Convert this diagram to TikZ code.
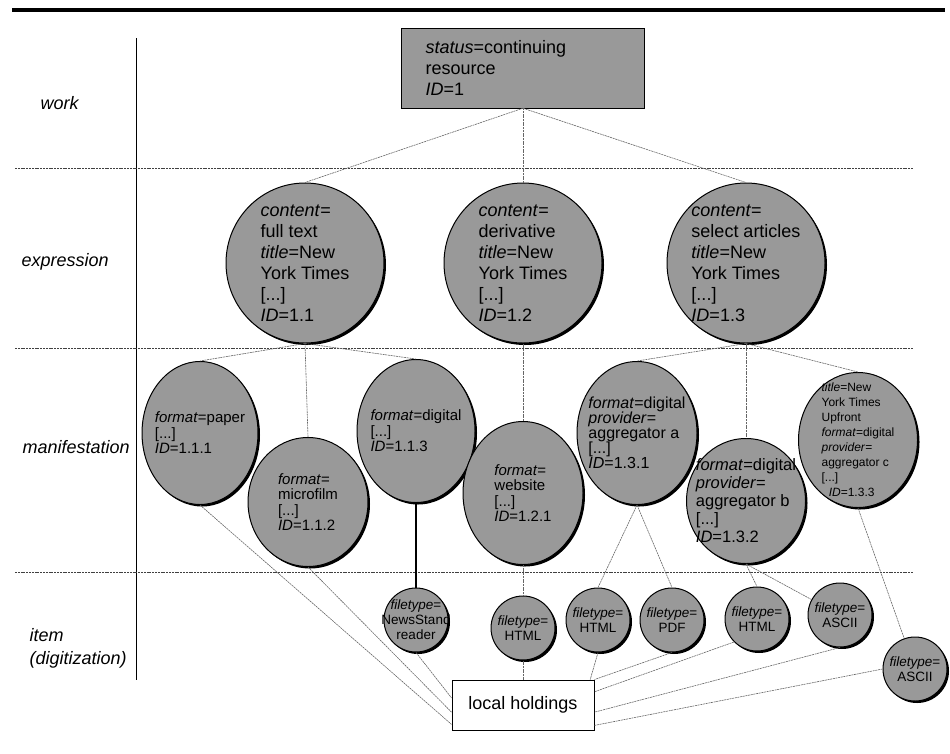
\documentclass[tikz,border=0pt]{standalone}
\usepackage{fontspec}
\setmainfont{Liberation Sans}
\usetikzlibrary{positioning,shapes.geometric,shadows,calc}
\definecolor{patgray}{gray}{0.6}
\newcommand{\attr}[1]{\textit{#1}=}

\begin{document}
\begin{tikzpicture}[x=1pt,y=-1pt,on grid,
  lbl/.style={anchor=west,align=left,font=\fontsize{18}{23}\selectfont\itshape},
  sep/.style={line width=0.8pt,black!75,dash pattern=on 2pt off 0.8pt},
  link/.style={line width=0.6pt,black!60,dash pattern=on 2pt off 0.7pt},
  workbox/.style={draw,fill=patgray,minimum width=243pt,minimum height=80pt,
    text width=195pt,inner sep=0pt,align=left,font=\fontsize{18}{21}\selectfont},
  blob/.style={ellipse,draw,line width=1pt,fill=patgray,
    drop shadow={shadow xshift=2pt,shadow yshift=-2pt,fill=black,opacity=1}},
  expr/.style={blob,minimum width=158pt,minimum height=160pt,inner sep=-20pt,
    align=left,font=\fontsize{18}{21}\selectfont},
  manif/.style={blob,minimum width=118pt,minimum height=143pt,inner sep=-16pt,
    align=left,font=\fontsize{15}{15.5}\selectfont},
  item/.style={blob,minimum size=64pt,inner sep=-14pt,
    align=center,font=\fontsize{13.5}{15}\selectfont},
  holdbox/.style={draw,fill=white,line width=1pt,minimum width=142pt,
    minimum height=50pt,font=\fontsize{18}{21}\selectfont}]
\useasboundingbox (0,0) rectangle (950,753);

\draw[line width=4.5pt] (12,10) -- (945,10);
\draw[line width=1pt] (136,38) -- (136,680);
\foreach \y in {168,348,572}
  \draw[sep] (15,\y) -- (913,\y);

\node[lbl] (lwork) at (37,103) {work};
\node[lbl] (lexpr) at (18,262) {expression};
\node[lbl] (lman) at (19,447) {manifestation};
\node[lbl] (litem) at (26,648) {item\\(digitization)};

\node[workbox] (work) at (523,68) {\attr{status}continuing\\resource\\\attr{ID}1};

\node[expr] (e12) [below=195pt of work]
  {\attr{content}\\derivative\\\attr{title}New\\York Times\\{[...]}\\\attr{ID}1.2};
\node[expr] (e11) [left=218pt of e12]
  {\attr{content}\\full text\\\attr{title}New\\York Times\\{[...]}\\\attr{ID}1.1};
\node[expr] (e13) [right=223pt of e12]
  {\attr{content}\\select articles\\\attr{title}New\\York Times\\{[...]}\\\attr{ID}1.3};

\node[manif,minimum width=116pt] (m111) [below left=170pt and 105pt of e11]
  {\attr{format}paper\\{[...]}\\\attr{ID}1.1.1};
\node[manif,minimum width=120pt,minimum height=129pt] (m112) [below right=239pt and 3pt of e11]
  {\attr{format}\\microfilm\\{[...]}\\\attr{ID}1.1.2};
\node[manif] (m113) [below right=168pt and 111pt of e11]
  {\attr{format}digital\\{[...]}\\\attr{ID}1.1.3};
\node[manif,minimum width=120pt] (m121) [below=230pt of e12]
  {\attr{format}\\website\\{[...]}\\\attr{ID}1.2.1};
\node[manif,minimum width=120pt,font=\fontsize{16}{15}\selectfont] (m131) [below left=170pt and 109pt of e13]
  {\attr{format}digital\\\attr{provider}\\aggregator a\\{[...]}\\\attr{ID}1.3.1};
\node[manif,minimum width=119pt,minimum height=125pt,font=\fontsize{16.5}{18}\selectfont] (m132) [below=238pt of e13]
  {\attr{format}digital\\\attr{provider}\\aggregator b\\{[...]}\\\attr{ID}1.3.2};
\node[manif,minimum width=119pt,minimum height=135pt,font=\fontsize{12}{15}\selectfont] (m133) [below right=177pt and 112pt of e13]
  {\attr{title}New\\York Times\\Upfront\\\attr{format}digital\\\attr{provider}\\aggregator c\\{[...]}\\\hspace{0.6em}\attr{ID}1.3.3};

\node[item] (i113) [below=189pt of m113] {\attr{filetype}\\NewsStand\\reader};
\node[item] (i121) [below=135pt of m121] {\attr{filetype}\\HTML};
\node[item] (i131a) [below left=187pt and 39pt of m131] {\attr{filetype}\\HTML};
\node[item] (i131b) [below right=187pt and 35pt of m131] {\attr{filetype}\\PDF};
\node[item] (i132a) [below right=118pt and 11pt of m132] {\attr{filetype}\\HTML};
\node[item] (i132b) [below right=114pt and 94pt of m132] {\attr{filetype}\\ASCII};
\node[item] (i133) [below right=229pt and 57pt of m133] {\attr{filetype}\\ASCII};

\node[holdbox] (hold) [below=77pt of i121] {local holdings};

\draw[link] (work.south) -- (e11.north);
\draw[link] (work.south) -- (e12.north);
\draw[link] (work.south) -- (e13.north);
\foreach \m in {m111,m112,m113}
  \draw[link] (e11.south) -- (\m.north);
\draw[link] (e12.south) -- (m121.north);
\foreach \m in {m131,m132,m133}
  \draw[link] (e13.south) -- (\m.north);

\draw[line width=1.2pt] (m113.south) -- (i113.north);
\draw[link] (m121.south) -- (i121.north);
\draw[link] (m131.south) -- (i131a.north);
\draw[link] (m131.south) -- (i131b.north);
\draw[link] (m132.south) -- (i132a.north);
\draw[link] (m132.south) -- (i132b);
\draw[link] (m133.south) -- (i133);

\draw[link] (m111.south) -- ($(hold.north west)!0.88!(hold.south west)$);
\draw[link] (m112.south) -- ($(hold.north west)!0.64!(hold.south west)$);
\draw[link] (i113.south) -- ($(hold.north west)!0.36!(hold.south west)$);
\draw[link] (i121.south) -- (hold.north);
\draw[link] (i131a.south) -- ($(hold.north east)!0.03!(hold.north west)$);
\draw[link] (i131b.south) -- (hold.north east);
\draw[link] (i132a.south west) -- ($(hold.north east)!0.24!(hold.south east)$);
\draw[link] (i132b.south) -- ($(hold.north east)!0.64!(hold.south east)$);
\draw[link] (i133.west) -- ($(hold.north east)!0.9!(hold.south east)$);
\end{tikzpicture}
\end{document}
